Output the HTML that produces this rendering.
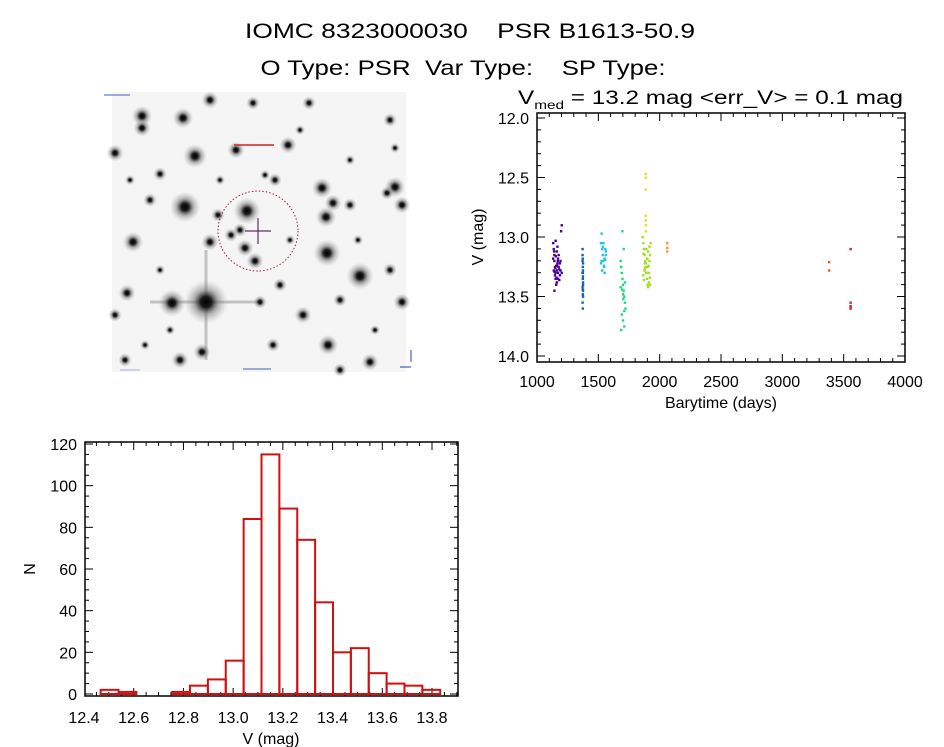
<!DOCTYPE html>
<html><head><meta charset="utf-8"><style>
html,body{margin:0;padding:0;background:#fff;}
svg{display:block;font-family:"Liberation Sans",sans-serif;}
.pre{white-space:pre;}
</style></head><body>
<svg id="root" width="944" height="747" viewBox="0 0 944 747" xmlns="http://www.w3.org/2000/svg">
<defs>
<radialGradient id="star"><stop offset="0" stop-color="#000" stop-opacity="1"/><stop offset="0.25" stop-color="#111" stop-opacity="0.95"/><stop offset="0.55" stop-color="#666" stop-opacity="0.5"/><stop offset="1" stop-color="#aaa" stop-opacity="0"/></radialGradient>
</defs>
<text class="pre" x="470" y="38" font-size="21" text-anchor="middle" textLength="450" lengthAdjust="spacingAndGlyphs">IOMC 8323000030    PSR B1613-50.9</text>
<text class="pre" x="463" y="75" font-size="21" text-anchor="middle" textLength="405" lengthAdjust="spacingAndGlyphs">O Type: PSR  Var Type:    SP Type:</text>
<g id="img">
<rect x="112" y="92" width="294" height="280" fill="#f5f5f5"/>
</g>
<g id="lc"></g>
<g id="hist"></g>
</svg>
<script>
// ---- light curve data ----
const lcGroupColors = ["#4b0090","#1060c8","#20c0e0","#20d880","#a0e020","#e0e020","#f0a020","#e06020","#d02010"];
const lcDays = [
 [1130,1135,1140,1140,1145,1150,1150,1155,1160,1160,1165,1170,1170,1175,1180,1185,1190,1195,1200,1140,1150,1160,1170,1180,1135,1145,1155,1165,1175,1185,1130,1200,1190,1138,1148,1158,1168,1142,1152,1162],
 [1370,1370,1370,1372,1372,1372,1374,1374,1374,1370,1372,1374,1370,1372,1374,1370,1371,1373,1371,1373],
 [1520,1525,1530,1535,1540,1545,1550,1555,1560,1520,1530,1540,1550,1560,1525,1545,1535,1555],
 [1680,1685,1690,1695,1700,1705,1710,1715,1720,1690,1700,1710,1685,1695,1705,1715,1680,1700,1710,1692,1702],
 [1860,1865,1870,1875,1880,1885,1890,1895,1900,1905,1910,1915,1920,1865,1875,1885,1895,1905,1915,1870,1880,1890,1900,1910,1920,1925,1868,1878,1888,1898,1908,1918],
 [1885,1885,1885,1885,1885,1885,1885],
 [2060,2060,2060],
 [3380,3380],
 [3555,3555,3555,3555]
];
const lcMags = [
 [13.05,13.1,13.15,13.2,13.25,13.3,13.35,13.4,13.38,13.28,13.22,13.18,13.3,13.25,13.27,13.32,13.2,12.95,12.9,13.45,13.03,13.12,13.35,13.36,13.28,13.32,13.24,13.08,13.15,13.22,13.18,13.3,13.28,13.12,13.26,13.34,13.2,13.29,13.16,13.24],
 [13.1,13.15,13.2,13.25,13.3,13.35,13.4,13.45,13.5,13.55,13.6,13.38,13.42,13.48,13.22,13.3,13.18,13.33,13.44,13.28],
 [13.05,12.97,13.1,13.15,13.2,13.25,13.3,13.1,13.15,13.22,13.28,13.05,13.18,13.12,13.2,13.24,13.08,13.19],
 [13.2,13.25,13.3,13.35,13.4,13.45,13.5,13.55,13.6,13.65,13.7,13.75,13.78,12.95,13.1,13.38,13.42,13.48,13.62,13.44,13.52],
 [13.0,13.05,13.1,13.15,13.2,13.25,13.3,13.35,13.4,13.42,13.38,13.2,13.15,13.32,13.28,13.22,13.18,13.12,13.08,13.36,13.26,13.1,13.25,13.3,13.4,13.05,13.14,13.22,13.3,13.18,13.24,13.34],
 [12.47,12.5,12.6,12.82,12.86,12.9,12.95],
 [13.05,13.09,13.12],
 [13.21,13.28],
 [13.1,13.55,13.58,13.6]
];
// ---- histogram data ----
const hBinStart = 12.467, hBinWidth = 0.0719;
const hCounts = [2,1,0,0,1,4,7,16,84,115,89,74,44,20,22,10,5,4,2];
const hxTicks = ["12.4","12.6","12.8","13.0","13.2","13.4","13.6","13.8"];
const hyTicks = ["0","20","40","60","80","100","120"];
const lxTicks = ["1000","1500","2000","2500","3000","3500","4000"];
const lyTicks = ["12.0","12.5","13.0","13.5","14.0"];
// ---- star field ----
const stars = [[206,302,13],[172,303,8],[185,207,9],[247,211,8],[327,253,8],[360,276,8],[195,156,7],[142,116,6],[183,118,6],[395,187,6],[322,188,6],[326,217,6],[333,203,5],[328,345,6],[303,315,5],[133,242,6],[210,242,5],[142,128,5],[236,150,5],[288,145,5],[115,153,5],[180,360,5],[202,352,5],[370,362,5],[402,302,5],[245,248,5],[255,261,5],[240,230,4],[273,345,4],[127,293,5],[115,315,4],[160,174,4],[218,215,4],[275,180,4],[309,103,4],[402,205,5],[387,193,4],[350,205,4],[390,270,4],[340,370,4],[125,360,4],[260,302,4],[280,285,4],[150,200,4],[231,235,4],[390,120,4],[395,148,3],[210,100,5],[253,103,4],[265,175,3],[358,240,3],[340,300,4],[170,330,3],[300,130,3],[130,180,3],[375,330,3],[290,240,3],[160,270,3],[220,180,3],[350,160,3],[145,345,3]];
const NS="http://www.w3.org/2000/svg";
function mk(p,t,a,txt){const e=document.createElementNS(NS,t);for(const k in a)e.setAttribute(k,a[k]);if(txt!==undefined)e.textContent=txt;p.appendChild(e);return e;}

// star image
const img=document.getElementById('img');
mk(img,'line',{x1:150,y1:302,x2:262,y2:302,stroke:'#666','stroke-width':3,opacity:0.35});
mk(img,'line',{x1:206,y1:250,x2:206,y2:360,stroke:'#666','stroke-width':3,opacity:0.35});
for(const s of stars){
 const c=mk(img,'circle',{cx:s[0],cy:s[1],r:s[2]*1.7,fill:'url(#star)'});
 
 
}
const circ=mk(img,'circle',{cx:258,cy:231,r:40,fill:'none',stroke:'#a02030','stroke-width':1,'stroke-dasharray':'1.5,2'});


mk(img,'line',{x1:245,y1:231,x2:271,y2:231,stroke:'#603060','stroke-width':1.2});
mk(img,'line',{x1:258,y1:218,x2:258,y2:244,stroke:'#603060','stroke-width':1.2});
mk(img,'rect',{x:234,y:144,width:40,height:2,fill:'#d03030',opacity:0.8});
mk(img,'rect',{x:104,y:94,width:26,height:2,fill:'#4060c0',opacity:0.5});
mk(img,'rect',{x:243,y:368,width:28,height:2,fill:'#4060c0',opacity:0.5});
mk(img,'rect',{x:120,y:369,width:20,height:2,fill:'#a0b0e0',opacity:0.5});
mk(img,'line',{x1:411,y1:350,x2:411,y2:362,stroke:'#2040a0','stroke-width':1});
mk(img,'line',{x1:400,y1:367,x2:411,y2:367,stroke:'#2040a0','stroke-width':1});

function frame(g,x0,y0,x1,y1){mk(g,'rect',{x:x0,y:y0,width:x1-x0,height:y1-y0,fill:'none',stroke:'#000','stroke-width':1.5});}

// light curve
const lc=document.getElementById('lc');
const LX0=537,LX1=905,LY0=113,LY1=362;
const lxs=d=>LX0+(d-1000)/3000*(LX1-LX0);
const lys=m=>118+(m-12.0)/2.0*(356-118);
frame(lc,LX0,LY0,LX1,LY1);
for(let d=1000;d<=4000;d+=100){const x=lxs(d),L=(d%500===0)?8:4;
 mk(lc,'line',{x1:x,y1:LY1,x2:x,y2:LY1-L,stroke:'#000'});mk(lc,'line',{x1:x,y1:LY0,x2:x,y2:LY0+L,stroke:'#000'});}
for(let i=0;i<=20;i++){const m=12+i*0.1,y=lys(m),L=(i%5===0)?8:4;
 mk(lc,'line',{x1:LX0,y1:y,x2:LX0+L,y2:y,stroke:'#000'});mk(lc,'line',{x1:LX1,y1:y,x2:LX1-L,y2:y,stroke:'#000'});}
lxTicks.forEach(t=>{const e=mk(lc,'text',{x:lxs(+t),y:387,'font-size':16,'text-anchor':'middle'},t);
 
 });
lyTicks.forEach(t=>{const e=mk(lc,'text',{x:529,y:lys(+t)+6,'font-size':16,'text-anchor':'end'},t);
 
 });
let e;
e=mk(lc,'text',{x:721,y:408,'font-size':16,'text-anchor':'middle'},'Barytime (days)');

e=mk(lc,'text',{x:0,y:0,'font-size':16,'text-anchor':'middle',transform:'translate(483,237) rotate(-90)'},'V (mag)');

e=mk(lc,'text',{x:518,y:104,'font-size':19,textLength:385,lengthAdjust:'spacingAndGlyphs'},'');

mk(e,'tspan',{},'V');mk(e,'tspan',{'font-size':12,dy:5},'med');mk(e,'tspan',{dy:-5},' = 13.2 mag <err_V> = 0.1 mag');
lcDays.forEach((grp,gi)=>{grp.forEach((d,i)=>{
 const p=mk(lc,'rect',{x:lxs(d)-1,y:lys(lcMags[gi][i])-1,width:2.4,height:2.4,fill:lcGroupColors[gi]});
 
 });});

// histogram
const h=document.getElementById('hist');
const HX0=85,HX1=458,HY0=442,HY1=696;
const hxs=v=>84+(v-12.4)/1.4*(432-84);
const hys=n=>694-n/120*(694-444);
frame(h,HX0,HY0,HX1,HY1);
for(let i=0;i<=30;i++){const v=12.4+i*0.05,x=hxs(v);if(x<HX0||x>HX1)continue;const L=(i%4===0)?8:4;
 mk(h,'line',{x1:x,y1:HY1,x2:x,y2:HY1-L,stroke:'#000'});mk(h,'line',{x1:x,y1:HY0,x2:x,y2:HY0+L,stroke:'#000'});}
for(let n=0;n<=120;n+=5){const y=hys(n),L=(n%20===0)?8:4;
 mk(h,'line',{x1:HX0,y1:y,x2:HX0+L,y2:y,stroke:'#000'});mk(h,'line',{x1:HX1,y1:y,x2:HX1-L,y2:y,stroke:'#000'});}
hxTicks.forEach(t=>{const el=mk(h,'text',{x:hxs(+t),y:723,'font-size':16,'text-anchor':'middle'},t);
 
 });
hyTicks.forEach(t=>{const el=mk(h,'text',{x:77,y:hys(+t)+6,'font-size':16,'text-anchor':'end'},t);
 
 });
e=mk(h,'text',{x:271,y:744,'font-size':16,'text-anchor':'middle'},'V (mag)');

e=mk(h,'text',{x:0,y:0,'font-size':16,'text-anchor':'middle',transform:'translate(35,569) rotate(-90)'},'N');

hCounts.forEach((n,i)=>{const a=hxs(hBinStart+i*hBinWidth),b=hxs(hBinStart+(i+1)*hBinWidth);
 const r=mk(h,'rect',{x:a,y:hys(n),width:b-a,height:hys(0)-hys(n),fill:'none',stroke:'#d01010','stroke-width':2});
 
 });
</script>
</body></html>
